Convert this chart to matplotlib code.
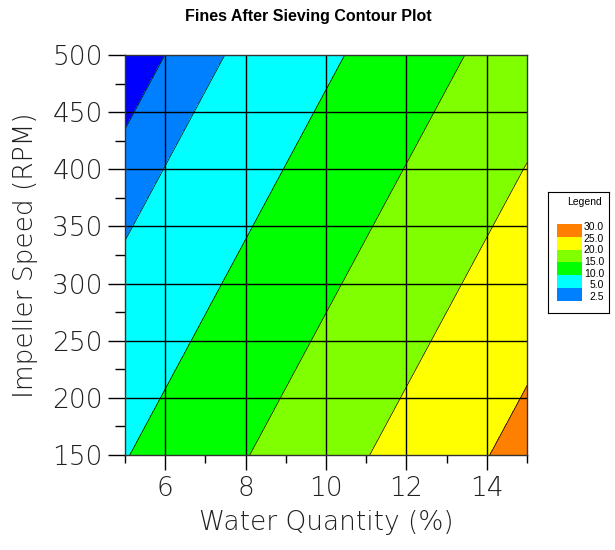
import numpy as np
import matplotlib.pyplot as plt
from matplotlib.patches import Rectangle

# fines (%) read at the corners and midlines of the design space
water = [5, 10, 15]
speed = [150, 325, 500]
fines = [[9.80, 18.18, 26.55],
         [5.32, 13.70, 22.07],
         [0.84, 9.22, 17.59]]

levels = [0, 2.5, 5, 10, 15, 20, 25, 30]
colors = ['#0000ff', '#0080ff', '#00ffff', '#00ff00', '#80ff00', '#ffff00', '#ff8000']

xmajor = [6, 8, 10, 12, 14]
xminor = [5, 7, 9, 11, 13, 15]
ymajor = [150, 200, 250, 300, 350, 400, 450, 500]
yminor = [175, 225, 275, 325, 375, 425, 475]

fig = plt.figure(figsize=(6.15, 5.5), dpi=100)
ax = fig.add_axes([125/615, 1-455/550, 402/615, 400/550])

X, Y = np.meshgrid(water, speed)
Z = np.array(fines)
ax.contourf(X, Y, Z, levels=levels, colors=colors)
ax.contour(X, Y, Z, levels=levels[1:-1], colors='k', linewidths=0.5)

ax.set_xlim(5, 15)
ax.set_ylim(150, 500)
for x in xmajor:
    ax.axvline(x, color='k', lw=1.0)
for y in ymajor[1:-1]:
    ax.axhline(y, color='k', lw=1.0)

tick_font = dict(family='DejaVu Sans', weight='light', size=19, color='#202020')
ax.set_xticks(xmajor)
ax.set_xticks(xminor, minor=True)
ax.set_yticks(ymajor)
ax.set_yticks(yminor, minor=True)
ax.set_xticklabels([str(v) for v in xmajor], fontdict=tick_font)
ax.set_yticklabels([str(v) for v in ymajor], fontdict=tick_font)
ax.tick_params(axis='x', which='major', direction='out', length=10.8, width=1, pad=4)
ax.tick_params(axis='x', which='minor', direction='out', length=5.8, width=1)
ax.tick_params(axis='y', which='major', direction='out', length=12, width=1, pad=4)
ax.tick_params(axis='y', which='minor', direction='out', length=7.2, width=1)
for s in ax.spines.values():
    s.set_color('#333333')
    s.set_linewidth(1)

ax.set_xlabel('Water Quantity (%)', fontdict=tick_font, labelpad=7)
ax.set_ylabel('Impeller Speed (RPM)', fontdict=tick_font, labelpad=10)

fig.text(0.502, 1-17/550, 'Fines After Sieving Contour Plot', ha='center', va='center',
         family='Liberation Sans', weight='bold', size=11.5)

# legend box on the right
lg = fig.add_axes([548/615, 1-313/550, 61/615, 121/550])
lg.set_xlim(0, 61)
lg.set_ylim(121, 0)
lg.set_xticks([])
lg.set_yticks([])
for s in lg.spines.values():
    s.set_linewidth(0.8)
lg.text(37, 10, 'Legend', ha='center', va='center', size=7.5, family='Liberation Sans')
sw_h = 12.8
top = 32
bands = list(zip(levels[1:], colors[1:]))[::-1]
for i, (lev, c) in enumerate(bands):
    lg.add_patch(Rectangle((9, top + i*sw_h), 25, sw_h, color=c, lw=0))
labels = ['%.1f' % v for v in levels[1:]][::-1]
for i, lab in enumerate(labels):
    lg.text(56, top + 3 + i*11.7, lab, ha='right', va='center', size=7.5, family='Liberation Sans')

fig.savefig('out.png', dpi=100)
